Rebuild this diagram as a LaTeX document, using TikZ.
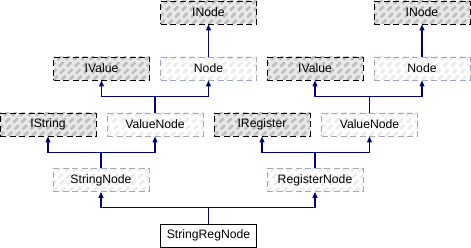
\documentclass[tikz,border=0pt]{standalone}
\usepackage{fontspec}
\setmainfont{Liberation Sans}
\usetikzlibrary{arrows.meta,calc}

\definecolor{edgeblue}{HTML}{000080}
\definecolor{classborder}{HTML}{A0A8C0}
\definecolor{ifacefill}{HTML}{E8E8E8}
\definecolor{ifacestripe}{HTML}{BEBEBE}
\definecolor{classstripe}{HTML}{ECECEC}

\tikzset{
  box/.style={minimum width=96pt, minimum height=23pt, inner sep=0pt,
    font=\fontsize{12.2}{14}\selectfont, text=black},
  hatch/.style={path picture={
    \foreach \k in {-4,...,13} {
      \draw[#1, line width=2.8pt]
        ([xshift=\k*8pt]path picture bounding box.south west) -- ++(32pt,32pt);
    }}},
  iface/.style={box, draw=black, line width=0.9pt, dash pattern=on 6pt off 3.5pt,
    fill=ifacefill, hatch=ifacestripe},
  cls/.style={box, draw=classborder, line width=0.9pt, dash pattern=on 6pt off 3.5pt,
    fill=white, hatch=classstripe},
  leaf/.style={box, draw=black, line width=0.9pt, fill=white},
  edge/.style={draw=edgeblue, line width=1.1pt,
    -{Triangle[length=6pt,width=5pt]}},
}

\newcommand{\inherit}[2]{%
  \draw[edge] (#1.north) |- ($(#1.north)!0.5!(#2.south)$) -| (#2.south);}

\begin{document}
\begin{tikzpicture}[x=1pt,y=1pt]
  \useasboundingbox (0,0) rectangle (471,-248);

  % left branch
  \node[iface] (inodeL)  at (208.5,-12.5)  {INode};
  \node[iface] (ivalueL) at (101.5,-68.5)  {IValue};
  \node[cls]   (nodeL)   at (208.5,-68.5)  {Node};
  \node[iface] (istring) at (48,-124.5)    {IString};
  \node[cls]   (vnodeL)  at (155,-124.5)   {ValueNode};
  \node[cls]   (strnode) at (101,-180)     {StringNode};

  % right branch
  \node[iface] (inodeR)  at (422,-12.5)    {INode};
  \node[iface] (ivalueR) at (315,-68.5)    {IValue};
  \node[cls]   (nodeR)   at (422,-68.5)    {Node};
  \node[iface] (ireg)    at (262,-124.5)   {IRegister};
  \node[cls]   (vnodeR)  at (369.5,-124.5) {ValueNode};
  \node[cls]   (regnode) at (315,-180)     {RegisterNode};

  % most derived class
  \node[leaf]  (strreg)  at (208.5,-235.5) {StringRegNode};

  % inheritance arrows
  \draw[edge] (nodeL.north) -- (inodeL.south);
  \draw[edge] (nodeR.north) -- (inodeR.south);
  \inherit{vnodeL}{ivalueL}
  \inherit{vnodeL}{nodeL}
  \inherit{vnodeR}{ivalueR}
  \inherit{vnodeR}{nodeR}
  \inherit{strnode}{istring}
  \inherit{strnode}{vnodeL}
  \inherit{regnode}{ireg}
  \inherit{regnode}{vnodeR}
  \inherit{strreg}{strnode}
  \inherit{strreg}{regnode}
\end{tikzpicture}
\end{document}
